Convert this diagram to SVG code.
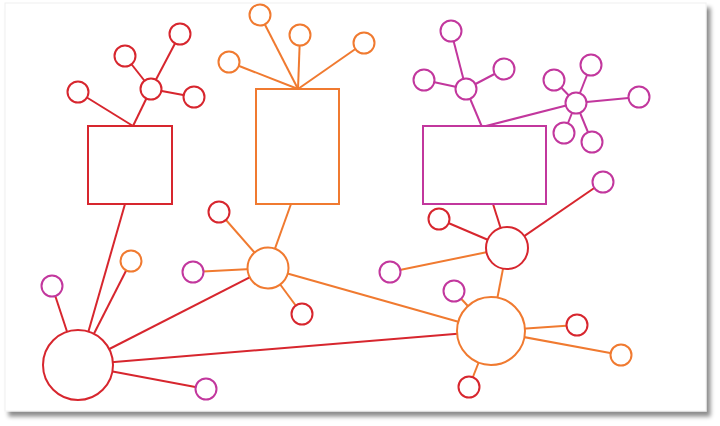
<svg xmlns="http://www.w3.org/2000/svg" width="720" height="426" viewBox="0 0 720 426">
<defs>
<filter id="sh" x="-5%" y="-5%" width="112%" height="115%">
<feDropShadow dx="4" dy="5" stdDeviation="2.2" flood-color="#000" flood-opacity="0.45"/>
</filter>
</defs>
<style>
.r{stroke:#d7262e}
.o{stroke:#f07a30}
.m{stroke:#c2379d}
line{stroke-width:2;fill:none}
circle,rect.n{fill:#fff;stroke-width:2}
</style>
<rect width="720" height="426" fill="#fff"/>
<rect x="5" y="3" width="701" height="408" fill="#fff" stroke="#f0f0f0" stroke-width="1" filter="url(#sh)"/>
<g id="connectors">
<line class="r" x1="133" y1="126" x2="151" y2="89"/>
<line class="r" x1="133" y1="126" x2="78" y2="92"/>
<line class="r" x1="151" y1="89" x2="125" y2="56"/>
<line class="r" x1="151" y1="89" x2="180" y2="34"/>
<line class="r" x1="151" y1="89" x2="194" y2="97"/>
<line class="o" x1="298" y1="89" x2="260" y2="15"/>
<line class="o" x1="298" y1="89" x2="300" y2="35"/>
<line class="o" x1="298" y1="89" x2="229" y2="62"/>
<line class="o" x1="298" y1="89" x2="364" y2="43"/>
<line class="m" x1="482" y1="127" x2="466" y2="89"/>
<line class="m" x1="482" y1="127" x2="576" y2="103"/>
<line class="m" x1="466" y1="89" x2="451" y2="31"/>
<line class="m" x1="466" y1="89" x2="424" y2="80"/>
<line class="m" x1="466" y1="89" x2="504" y2="69"/>
<line class="m" x1="576" y1="103" x2="554" y2="80"/>
<line class="m" x1="576" y1="103" x2="591" y2="65"/>
<line class="m" x1="576" y1="103" x2="639" y2="97"/>
<line class="m" x1="576" y1="103" x2="564" y2="133"/>
<line class="m" x1="576" y1="103" x2="592" y2="142"/>
<line class="r" x1="125" y1="204" x2="86" y2="340"/>
<line class="r" x1="78" y1="365" x2="131" y2="261"/>
<line class="r" x1="78" y1="365" x2="52" y2="286"/>
<line class="r" x1="78" y1="365" x2="206" y2="389"/>
<line class="r" x1="78" y1="365" x2="268" y2="268"/>
<line class="r" x1="78" y1="365" x2="491" y2="331"/>
<line class="o" x1="268" y1="268" x2="291" y2="204"/>
<line class="o" x1="268" y1="268" x2="219" y2="212"/>
<line class="o" x1="268" y1="268" x2="193" y2="272"/>
<line class="o" x1="268" y1="268" x2="302" y2="314"/>
<line class="o" x1="268" y1="268" x2="491" y2="331"/>
<line class="r" x1="507" y1="248" x2="493" y2="204"/>
<line class="r" x1="507" y1="248" x2="439" y2="219"/>
<line class="r" x1="507" y1="248" x2="603" y2="182"/>
<line class="o" x1="507" y1="248" x2="390" y2="272"/>
<line class="o" x1="507" y1="248" x2="491" y2="331"/>
<line class="o" x1="491" y1="331" x2="454" y2="291"/>
<line class="o" x1="491" y1="331" x2="577" y2="325"/>
<line class="o" x1="491" y1="331" x2="621" y2="355"/>
<line class="o" x1="491" y1="331" x2="469" y2="387"/>
</g>
<g id="box-red"><rect class="n r" x="88" y="126" width="84" height="78"/></g>
<g id="box-orange"><rect class="n o" x="256" y="89" width="83" height="115"/></g>
<g id="box-magenta"><rect class="n m" x="423" y="126" width="123" height="78"/></g>
<g id="hub-red-top"><circle class="r" cx="151" cy="89" r="10.5"/></g>
<g id="leaf-r1"><circle class="r" cx="125" cy="56" r="10.5"/></g>
<g id="leaf-r2"><circle class="r" cx="180" cy="34" r="10.5"/></g>
<g id="leaf-r3"><circle class="r" cx="194" cy="97" r="10.5"/></g>
<g id="leaf-r4"><circle class="r" cx="78" cy="92" r="10.5"/></g>
<g id="leaf-o1"><circle class="o" cx="260" cy="15" r="10.5"/></g>
<g id="leaf-o2"><circle class="o" cx="300" cy="35" r="10.5"/></g>
<g id="leaf-o3"><circle class="o" cx="229" cy="62" r="10.5"/></g>
<g id="leaf-o4"><circle class="o" cx="364" cy="43" r="10.5"/></g>
<g id="hub-magenta-1"><circle class="m" cx="466" cy="89" r="10.5"/></g>
<g id="leaf-m1"><circle class="m" cx="451" cy="31" r="10.5"/></g>
<g id="leaf-m2"><circle class="m" cx="424" cy="80" r="10.5"/></g>
<g id="leaf-m3"><circle class="m" cx="504" cy="69" r="10.5"/></g>
<g id="hub-magenta-2"><circle class="m" cx="576" cy="103" r="10.5"/></g>
<g id="leaf-m4"><circle class="m" cx="554" cy="80" r="10.5"/></g>
<g id="leaf-m5"><circle class="m" cx="591" cy="65" r="10.5"/></g>
<g id="leaf-m6"><circle class="m" cx="639" cy="97" r="10.5"/></g>
<g id="leaf-m7"><circle class="m" cx="564" cy="133" r="10.5"/></g>
<g id="leaf-m8"><circle class="m" cx="592" cy="142" r="10.5"/></g>
<g id="hub-big-red"><circle class="r" cx="78" cy="365" r="35"/></g>
<g id="leaf-b1"><circle class="m" cx="52" cy="286" r="10.5"/></g>
<g id="leaf-b2"><circle class="o" cx="131" cy="261" r="10.5"/></g>
<g id="leaf-b3"><circle class="m" cx="206" cy="389" r="10.5"/></g>
<g id="hub-orange"><circle class="o" cx="268" cy="268" r="20.5"/></g>
<g id="leaf-b4"><circle class="r" cx="219" cy="212" r="10.5"/></g>
<g id="leaf-b5"><circle class="m" cx="193" cy="272" r="10.5"/></g>
<g id="leaf-b6"><circle class="r" cx="302" cy="314" r="10.5"/></g>
<g id="hub-red-right"><circle class="r" cx="507" cy="248" r="21"/></g>
<g id="leaf-b7"><circle class="r" cx="439" cy="219" r="10.5"/></g>
<g id="leaf-b8"><circle class="m" cx="603" cy="182" r="10.5"/></g>
<g id="leaf-b9"><circle class="m" cx="390" cy="272" r="10.5"/></g>
<g id="hub-big-orange"><circle class="o" cx="491" cy="331" r="34"/></g>
<g id="leaf-b10"><circle class="m" cx="454" cy="291" r="10.5"/></g>
<g id="leaf-b11"><circle class="r" cx="577" cy="325" r="10.5"/></g>
<g id="leaf-b12"><circle class="o" cx="621" cy="355" r="10.5"/></g>
<g id="leaf-b13"><circle class="r" cx="469" cy="387" r="10.5"/></g>
</svg>
